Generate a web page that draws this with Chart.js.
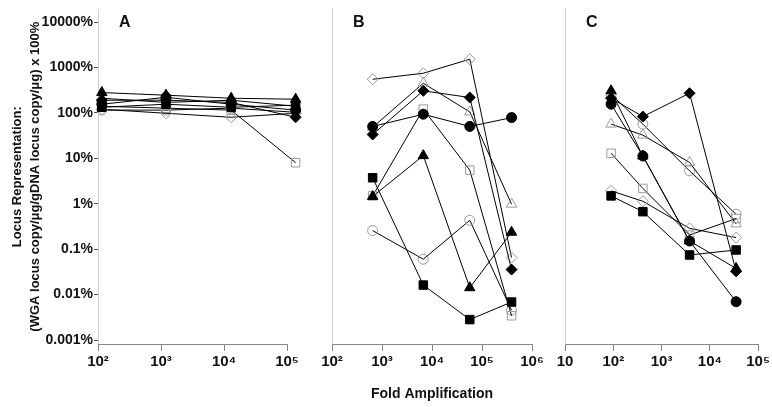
<!DOCTYPE html>
<html>
<head>
<meta charset="utf-8">
<script src="https://cdn.jsdelivr.net/npm/chart.js@4"></script>
<style>
html,body{margin:0;padding:0;background:#fff;}
#wrap{position:relative;width:772px;height:407px;overflow:hidden;}
#wrap canvas{position:absolute;left:0;top:0;}
</style>
</head>
<body>
<div id="wrap">
<canvas id="cA" width="772" height="407"></canvas>
<canvas id="cB" width="772" height="407"></canvas>
<canvas id="cC" width="772" height="407"></canvas>
</div>
<script>
// ---------- Data (values in %, x = fold amplification) ----------
const panelLetters = ['A', 'B', 'C'];
const yTickExponents = [-3, -2, -1, 0, 1, 2, 3, 4];
const xTickExpA = [2, 3, 4, 5];
const xTickExpB = [2, 3, 4, 5, 6];
const xTickExpC = [1, 2, 3, 4, 5];
const xTitle = 'Fold Amplification';
const yTitle = ['Locus Representation:', '(WGA locus copy/\u03bcg/gDNA locus copy/\u03bcg) x 100%'];

const xA = [115, 1200, 13000, 137000];
const xB = [650, 6700, 57000, 390000];
const xC = [90, 410, 3800, 35000];

// Panel A
const aTriangleFilled = [280, 245, 210, 200];
const aDiamondFilled  = [190, 190, 170, 80];
const aCircleFilled   = [155, 220, 155, 115];
const aSquareFilled   = [133, 155, 133, 148];
const aDiamondOpen    = [120, 98, 80, 98];
const aSquareOpen     = [140, 127, 115, 8];
const aCircleOpen     = [115, 115, 127, 103];
const aTriangleOpen   = [210, 170, 190, 140];

// Panel B
const bDiamondOpen    = [520, 705, 1430, 0.064];
const bDiamondFilled  = [32, 290, 207, 0.035];
const bCircleFilled   = [48, 89, 48, 75];
const bSquareFilled   = [3.6, 0.016, 0.0028, 0.0068];
const bTriangleFilled = [1.4, 11, 0.014, 0.23];
const bSquareOpen     = [1.44, 115, 5.3, 0.0034];
const bCircleOpen     = [0.25, 0.059, 0.42, 0.0045];
const bTriangleOpen   = [46, 425, 100, 0.95];

// Panel C
const cTriangleFilled = [290, 10.8, 0.148, 0.037];
const cCircleFilled   = [148, 10.8, 0.148, 0.0069];
const cDiamondFilled  = [200, 79, 257, 0.032];
const cSquareFilled   = [1.44, 0.65, 0.073, 0.094];
const cSquareOpen     = [12.4, 2.1, 0.2, 0.46];
const cTriangleOpen   = [54, 31, 7.8, 0.35];
const cCircleOpen     = [240, 54, 5.1, 0.57];
const cDiamondOpen    = [1.86, 1.1, 0.28, 0.176];

// ---------- Styling ----------
const FONT = "'Liberation Sans', Arial, Helvetica, sans-serif";
const OPEN_COLOR = '#9a9a9a';
const MARKERS = {
  triangle: {pointStyle: 'triangle', r: 6},
  diamond:  {pointStyle: 'rectRot', r: 5.5},
  circle:   {pointStyle: 'circle', r: 5},
  square:   {pointStyle: 'rect', r: 6}
};
const Y_MIN = Math.pow(10, -3.088);
const Y_MAX = Math.pow(10, 4.278);

const SUP = {2: '\u00b2', 3: '\u00b3', 4: '\u2074', 5: '\u2075', 6: '\u2076'};
function xLabel(v) {
  const e = Math.round(Math.log10(v));
  return e === 1 ? '10' : '10' + SUP[e];
}
function yLabel(v) {
  const e = Math.round(Math.log10(v));
  return (e >= 0 ? String(Math.pow(10, e)) : Math.pow(10, e).toFixed(-e)) + '%';
}

function dataset(xs, vals, shape, filled) {
  const m = MARKERS[shape];
  return {
    data: xs.map((x, i) => ({x: x, y: vals[i]})),
    borderColor: '#000',
    borderWidth: 1,
    pointStyle: m.pointStyle,
    pointRadius: m.r,
    pointBorderWidth: 1,
    pointBorderColor: filled ? '#000' : OPEN_COLOR,
    pointBackgroundColor: filled ? '#000' : 'rgba(255,255,255,0)',
    fill: false,
    tension: 0,
    clip: false
  };
}

const letterPlugin = {
  id: 'panelLetter',
  afterDraw(chart, args, opts) {
    const ctx = chart.ctx;
    ctx.save();
    ctx.font = 'bold 16px ' + FONT;
    ctx.fillStyle = '#111';
    ctx.textBaseline = 'middle';
    ctx.textAlign = 'left';
    ctx.fillText(opts.text, chart.chartArea.left + 21, 23);
    ctx.restore();
  }
};

// x-axis baseline that stops at the last decade tick
const axisLinePlugin = {
  id: 'axisLine',
  beforeDatasetsDraw(chart, args, opts) {
    const ctx = chart.ctx, xs = chart.scales.x, a = chart.chartArea;
    const xEnd = xs.getPixelForValue(opts.lastTick);
    ctx.save();
    ctx.strokeStyle = '#888';
    ctx.lineWidth = 1;
    ctx.beginPath();
    ctx.moveTo(a.left, Math.round(a.bottom) + 0.5);
    ctx.lineTo(Math.round(xEnd) + 0.5, Math.round(a.bottom) + 0.5);
    ctx.stroke();
    ctx.restore();
  }
};

function makePanel(id, cfg) {
  const xScale = {
    type: 'logarithmic',
    min: Math.pow(10, cfg.xExps[0]),
    max: Math.pow(10, cfg.xMaxExp),
    afterBuildTicks: s => { s.ticks = cfg.xExps.map(e => ({value: Math.pow(10, e)})); },
    afterFit: s => { s.height = 63; },
    ticks: {
      callback: v => xLabel(v),
      font: {family: FONT, size: 15, weight: 'bold'},
      color: '#111', maxRotation: 0, minRotation: 0, autoSkip: false, padding: 2
    },
    grid: {drawOnChartArea: false, tickLength: 7, color: '#888', lineWidth: 1},
    border: {display: false},
    title: cfg.xTitle ? {
      display: true, text: cfg.xTitle,
      font: {family: FONT, size: 14, weight: 'bold'}, color: '#111',
      padding: {top: 0, bottom: 4}
    } : {display: false}
  };
  const yScale = {
    type: 'logarithmic',
    min: Y_MIN, max: Y_MAX,
    afterBuildTicks: s => { s.ticks = yTickExponents.map(e => ({value: Math.pow(10, e)})); },
    afterFit: s => { s.width = cfg.yW; },
    ticks: {
      display: cfg.showY,
      callback: v => yLabel(v),
      font: {family: FONT, size: 14, weight: 'bold'},
      color: '#111', padding: 1, autoSkip: false
    },
    grid: {drawOnChartArea: false, drawTicks: cfg.showY, tickLength: cfg.showY ? 4 : 0, color: '#555'},
    border: {color: '#cfcfcf', width: 1},
    title: cfg.yTitle ? {
      display: true, text: cfg.yTitle,
      font: {family: FONT, size: 13, weight: 'bold', lineHeight: 1.385}, color: '#111',
      padding: {top: 8, bottom: 0}
    } : {display: false}
  };
  return new Chart(document.getElementById(id), {
    type: 'line',
    data: {datasets: cfg.series.map(s => dataset(cfg.xs, s[0], s[1], s[2]))},
    options: {
      responsive: false,
      animation: false,
      events: [],
      layout: {padding: {left: cfg.padL, right: cfg.padR, top: 8, bottom: 0}},
      plugins: {
        legend: {display: false}, tooltip: {enabled: false},
        panelLetter: {text: cfg.letter},
        axisLine: {lastTick: Math.pow(10, cfg.xExps[cfg.xExps.length - 1])}
      },
      scales: {x: xScale, y: yScale}
    },
    plugins: [letterPlugin, axisLinePlugin]
  });
}

makePanel('cA', {
  xs: xA, xExps: xTickExpA, xMaxExp: 5 + 16 / 63, padL: 0, yW: 98, padR: 772 - 303, showY: true, yTitle: yTitle,
  letter: panelLetters[0],
  series: [
    [aTriangleFilled, 'triangle', true],
    [aDiamondFilled, 'diamond', true],
    [aCircleFilled, 'circle', true],
    [aSquareFilled, 'square', true],
    [aDiamondOpen, 'diamond', false],
    [aSquareOpen, 'square', false],
    [aCircleOpen, 'circle', false],
    [aTriangleOpen, 'triangle', false]
  ]
});

makePanel('cB', {
  xs: xB, xExps: xTickExpB, xMaxExp: 6, padL: 332, yW: 0, padR: 772 - 532, showY: false, xTitle: xTitle,
  letter: panelLetters[1],
  series: [
    [bDiamondFilled, 'diamond', true],
    [bCircleFilled, 'circle', true],
    [bSquareFilled, 'square', true],
    [bTriangleFilled, 'triangle', true],
    [bDiamondOpen, 'diamond', false],
    [bSquareOpen, 'square', false],
    [bCircleOpen, 'circle', false],
    [bTriangleOpen, 'triangle', false]
  ]
});

makePanel('cC', {
  xs: xC, xExps: xTickExpC, xMaxExp: 5, padL: 565, yW: 0, padR: 772 - 759, showY: false,
  letter: panelLetters[2],
  series: [
    [cTriangleFilled, 'triangle', true],
    [cCircleFilled, 'circle', true],
    [cDiamondFilled, 'diamond', true],
    [cSquareFilled, 'square', true],
    [cSquareOpen, 'square', false],
    [cTriangleOpen, 'triangle', false],
    [cCircleOpen, 'circle', false],
    [cDiamondOpen, 'diamond', false]
  ]
});
</script>
</body>
</html>
